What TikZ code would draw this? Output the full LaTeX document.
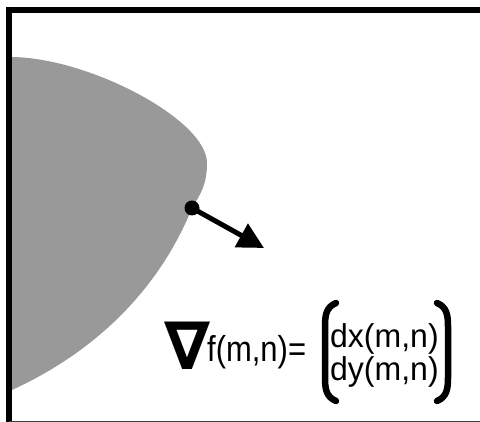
\documentclass[tikz,border=0pt]{standalone}
\usepackage{fontspec}
\setmainfont{Liberation Sans}
\newfontfamily\nablafont{DejaVu Sans}
\usetikzlibrary{arrows.meta}
\definecolor{regiongray}{RGB}{153,153,153}
\tikzset{
  frameline/.style={line width=6pt, black},
  lbl/.style={inner sep=0pt, anchor=base west},
  ent/.style={lbl, xscale=0.97, font=\fontsize{33}{34}\selectfont, text height=21pt, text depth=6pt},
  brk/.style={line width=6.5pt, line cap=round},
  vec/.style={line width=5pt, -{Triangle[length=26pt,width=26pt]}}
}
\begin{document}
\begin{tikzpicture}[x=1pt,y=-1pt]
\useasboundingbox (0,0) rectangle (480,422);
\clip (0,0) rectangle (480,422);
\fill[white] (0,0) rectangle (480,422);
% shaded region
\fill[regiongray] (9,57) -- (12,57) .. controls (90,58) and (207,120) .. (207,163)
  .. controls (207,185) and (200,195) .. (192,208)
  .. controls (165,275) and (110,345) .. (12,390) -- (9,390) -- cycle;
% frame
\draw[frameline] (9,440) -- (9,10) -- (500,10);
\draw[line width=6pt, black!75] (9,424) -- (500,424);
% gradient vector
\coordinate (p) at (192,208);
\coordinate (q) at (264,248);
\fill (p) circle (7.5);
\draw[vec] (p) -- (q);
% formula
\node[inner sep=0pt, anchor=base west, font=\nablafont\bfseries\fontsize{66}{66}\selectfont] (nab) at (164,370) {∇};
\node[lbl, xscale=0.86, font=\fontsize{36}{37}\selectfont] (lhs) at (207,362) {f(m,n)=};
\node[ent] (dx) at (330,348) {dx(m,n)};
\node[ent] (dy) at (330,381) {dy(m,n)};
\draw[brk] (336,303) .. controls (326,307) and (325,316) .. (325,326) -- (325,378) .. controls (325,388) and (326,397) .. (336,401);
\draw[brk] (437,303) .. controls (447,307) and (448,316) .. (448,326) -- (448,378) .. controls (448,388) and (447,397) .. (437,401);
\end{tikzpicture}
\end{document}
